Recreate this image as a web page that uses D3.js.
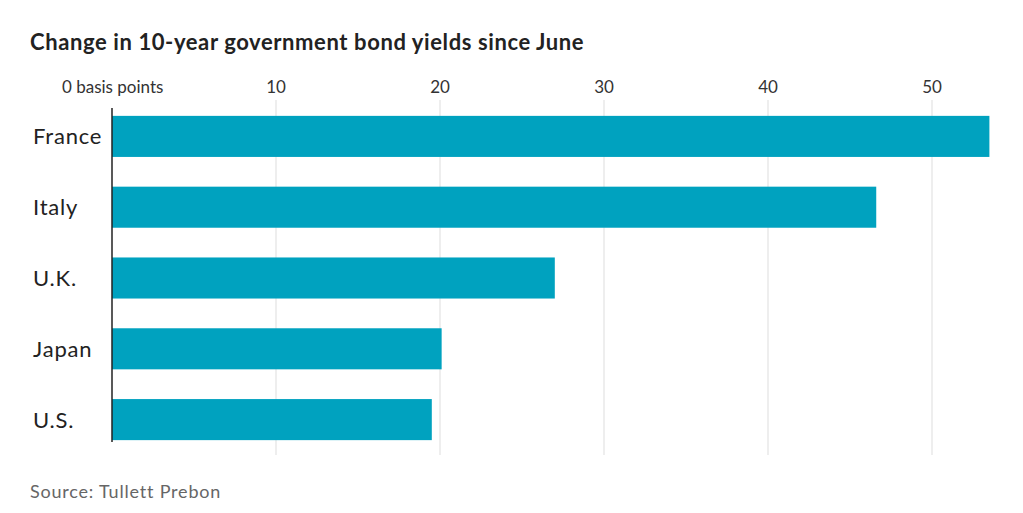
<!DOCTYPE html><html><head><meta charset="utf-8"><script src="https://cdn.jsdelivr.net/npm/d3@7"></script>
<style>body{margin:0;background:#fff}</style></head><body><svg id="c" width="1023" height="513"></svg>
<script>
const categories=["France","Italy","U.K.","Japan","U.S."];
const values=[53.5,46.6,27.0,20.1,19.5];
const ticks=[0,10,20,30,40,50];
const svg=d3.select("#c");
const font="Lato, 'Noto Sans', sans-serif";
const x=d3.scaleLinear().domain([0,50]).range([112,932]);
const y=d3.scaleBand().domain(categories).range([101,455]).paddingInner(0.42).paddingOuter(0.21);
svg.append("text").attr("x",30).attr("y",50).attr("font-family",font).attr("font-weight",700).attr("font-size",22).attr("letter-spacing",0.6).attr("fill","#222").text("Change in 10-year government bond yields since June");
ticks.forEach(t=>{
 if(t>0) svg.append("line").attr("x1",x(t)).attr("x2",x(t)).attr("y1",100).attr("y2",455).attr("stroke","#ddd").attr("stroke-width",1);
 svg.append("text").attr("x",t===0?62:x(t)).attr("y",93).attr("text-anchor",t===0?"start":"middle").attr("font-family",font).attr("font-size",17).attr("fill","#333").text(t===0?"0 basis points":t);
});
svg.selectAll("rect").data(values).enter().append("rect").attr("x",x(0)).attr("y",(d,i)=>y(categories[i])).attr("width",d=>x(d)-x(0)).attr("height",y.bandwidth()).attr("fill","#00a2bf");
svg.append("line").attr("x1",x(0)).attr("x2",x(0)).attr("y1",108).attr("y2",442).attr("stroke","#222").attr("stroke-width",1.5);
categories.forEach(c=>svg.append("text").attr("x",33).attr("y",y(c)+y.bandwidth()/2+8).attr("font-family",font).attr("font-size",22).attr("letter-spacing",0.8).attr("fill","#222").text(c));
svg.append("text").attr("x",30).attr("y",498).attr("font-family",font).attr("font-size",18).attr("letter-spacing",0.8).attr("fill","#666").text("Source: Tullett Prebon");
</script></body></html>
